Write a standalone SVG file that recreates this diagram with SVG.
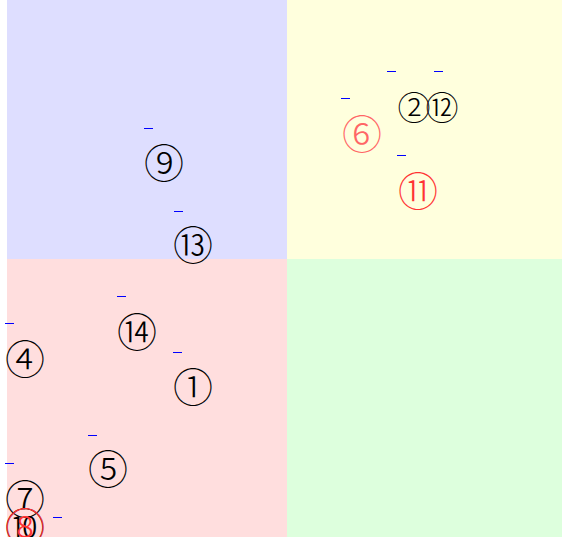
<svg xmlns="http://www.w3.org/2000/svg" width="562" height="537" viewBox="0 0 562 537">
<style>
.n{font-family:"Liberation Serif","DejaVu Serif","Noto Sans CJK JP",serif;font-size:40px;font-weight:300;text-anchor:middle;dominant-baseline:central;fill:#000}
.s{font-size:33px}
.r{fill:#ff3333}
.lr{fill:#ff6666}
.d{stroke:#0000ff;stroke-width:1}
</style>
<rect x="0" y="0" width="562" height="537" fill="#ffffff"/>
<rect x="7" y="0" width="280" height="259" fill="#dedeff"/>
<rect x="287" y="0" width="275" height="259" fill="#ffffdd"/>
<rect x="7" y="259" width="280" height="278" fill="#ffdede"/>
<rect x="287" y="259" width="275" height="278" fill="#ddffdd"/>
<g id="marks">
<line class="d" x1="144" y1="128.5" x2="153" y2="128.5"/>
<line class="d" x1="174" y1="211.5" x2="183" y2="211.5"/>
<line class="d" x1="387" y1="71.5" x2="396" y2="71.5"/>
<line class="d" x1="434" y1="71.5" x2="443" y2="71.5"/>
<line class="d" x1="341" y1="98.5" x2="350" y2="98.5"/>
<line class="d" x1="397" y1="155.5" x2="406" y2="155.5"/>
<line class="d" x1="117" y1="296.5" x2="126" y2="296.5"/>
<line class="d" x1="5" y1="323.5" x2="14" y2="323.5"/>
<line class="d" x1="173" y1="352.5" x2="182" y2="352.5"/>
<line class="d" x1="88" y1="435.5" x2="97" y2="435.5"/>
<line class="d" x1="5" y1="463.5" x2="14" y2="463.5"/>
<line class="d" x1="53" y1="517.5" x2="62" y2="517.5"/>
</g>
<g id="n9"><text class="n" x="164" y="164">⑨</text></g>
<g id="n13"><text class="n" x="193" y="246">⑬</text></g>
<g id="n2"><text class="n s" x="414" y="109">②</text></g>
<g id="n12"><text class="n s" x="442" y="109">⑫</text></g>
<g id="n6"><text class="n lr" x="362" y="135">⑥</text></g>
<g id="n11"><text class="n r" x="418" y="192">⑪</text></g>
<g id="n14"><text class="n" x="137" y="333">⑭</text></g>
<g id="n4"><text class="n" x="25" y="360">④</text></g>
<g id="n1"><text class="n" x="193" y="388">①</text></g>
<g id="n5"><text class="n" x="108" y="470">⑤</text></g>
<g id="n7"><text class="n" x="25" y="500">⑦</text></g>
<g id="n10"><text class="n" x="25" y="528">⑩</text></g>
<g id="n8"><text class="n r" x="25" y="528">⑧</text></g>
</svg>
